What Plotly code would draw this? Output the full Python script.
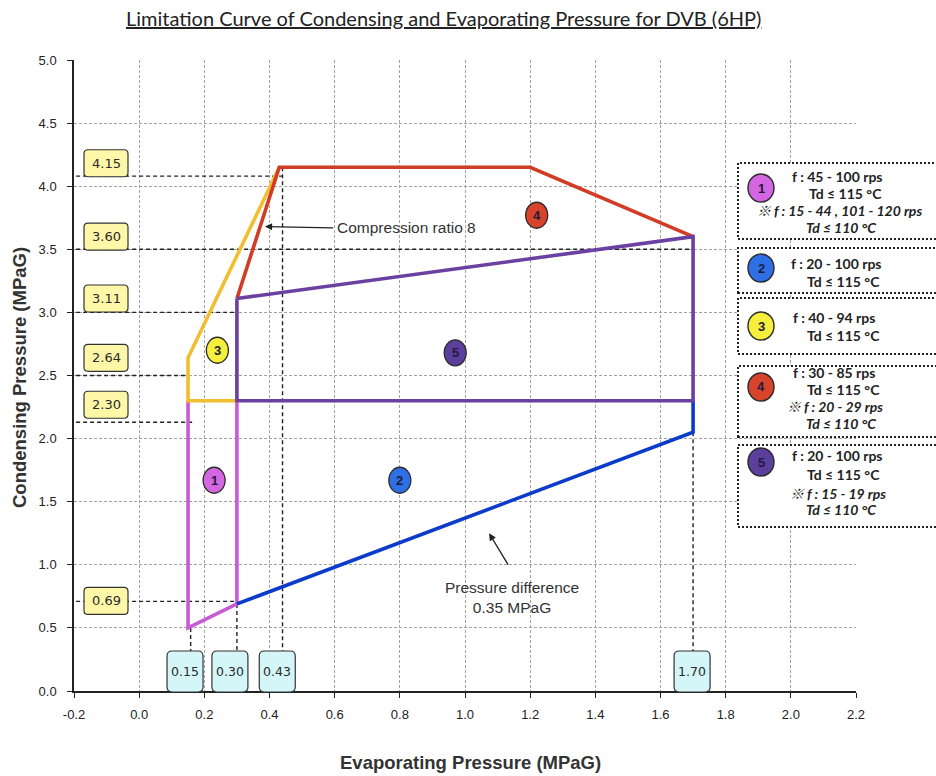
import plotly.graph_objects as go

# ---------------- data ----------------
x_range = [-0.2, 2.2]
y_range = [0.0, 5.0]
x_tick_vals = [-0.2, 0.0, 0.2, 0.4, 0.6, 0.8, 1.0, 1.2, 1.4, 1.6, 1.8, 2.0, 2.2]
x_tick_text = ["-0.2", "0.0", "0.2", "0.4", "0.6", "0.8", "1.0", "1.2", "1.4", "1.6", "1.8", "2.0", "2.2"]
y_tick_vals = [0.0, 0.5, 1.0, 1.5, 2.0, 2.5, 3.0, 3.5, 4.0, 4.5, 5.0]
y_tick_text = ["0.0", "0.5", "1.0", "1.5", "2.0", "2.5", "3.0", "3.5", "4.0", "4.5", "5.0"]

pink_x = [0.15, 0.15, 0.30, 0.30]
pink_y = [2.30, 0.50, 0.69, 2.30]
blue_x = [0.30, 1.70, 1.70]
blue_y = [0.69, 2.05, 2.30]
yellow_x = [0.30, 0.15, 0.15, 0.43]
yellow_y = [2.30, 2.30, 2.64, 4.15]
red_x = [0.30, 0.43, 1.20, 1.70]
red_y = [3.11, 4.15, 4.15, 3.60]
purple_x = [0.30, 1.70, 1.70, 0.30, 0.30]
purple_y = [3.11, 3.60, 2.30, 2.30, 3.11]

badge_num = ["1", "2", "3", "4", "5"]
badge_x = [0.23, 0.80, 0.24, 1.22, 0.97]
badge_y = [1.67, 1.67, 2.70, 3.77, 2.68]

y_labels = ["4.15", "3.60", "3.11", "2.64", "2.30", "0.69"]
y_label_vals = [4.15, 3.60, 3.11, 2.64, 2.30, 0.69]
x_labels = ["0.15", "0.30", "0.43", "1.70"]
x_label_vals = [0.15, 0.30, 0.43, 1.70]

guide_h_y = [4.08, 3.50, 3.00, 2.50, 2.13, 0.71]
guide_h_xend = [0.44, 1.70, 0.30, 0.15, 0.17, 0.30]
guide_v_x = [0.158, 0.30, 0.44, 1.70]
guide_v_ytop = [0.50, 0.69, 4.15, 2.05]

legend_lines = [
    ["f : 45 - 100 rps", "Td ≤ 115 °C", "<i>※ f : 15 - 44 , 101 - 120 rps</i>", "<i>Td ≤ 110 °C</i>"],
    ["f : 20 - 100 rps", "Td ≤ 115 °C"],
    ["f : 40 - 94 rps", "Td ≤ 115 °C"],
    ["f : 30 - 85 rps", "Td ≤ 115 °C", "<i>※ f : 20 - 29 rps</i>", "<i>Td ≤ 110 °C</i>"],
    ["f : 20 - 100 rps", "Td ≤ 115 °C", "<i>※ f : 15 - 19 rps</i>", "<i>Td ≤ 110 °C</i>"],
]

title_text = "Limitation Curve of Condensing and Evaporating Pressure for DVB (6HP)"
x_title = "Evaporating Pressure (MPaG)"
y_title = "Condensing Pressure (MPaG)"

# ---------------- style ----------------
W, H = 936, 776
ML, MR, MT, MB = 74, 80, 60, 85
PW, PH = W - ML - MR, H - MT - MB


def xp(px):
    return (px - ML) / PW


def yp(py):
    return (H - MB - py) / PH


line_colors = {"pink": "#C85AD6", "blue": "#0B3BCB", "yellow": "#F0BE2E",
               "red": "#D23C26", "purple": "#6A40A0"}
badge_colors = ["#D466E2", "#2F6FE6", "#F6F03C", "#D7432B", "#5C3E9C"]


def rounded(w, h, r, dx=0, dy=0):
    x0, x1 = -w / 2 + dx, w / 2 + dx
    y0, y1 = -h / 2 + dy, h / 2 + dy
    return (f"M{x0+r},{y0} L{x1-r},{y0} Q{x1},{y0} {x1},{y0+r} "
            f"L{x1},{y1-r} Q{x1},{y1} {x1-r},{y1} L{x0+r},{y1} "
            f"Q{x0},{y1} {x0},{y1-r} L{x0},{y0+r} Q{x0},{y0} {x0+r},{y0} Z")


def ann(**kw):
    d = dict(showarrow=False, xanchor="center", yanchor="middle")
    d.update(kw)
    return d


fig = go.Figure()

guide_style = dict(color="#222222", width=1.4, dash="4px,3px")
for gy, gx in zip(guide_h_y, guide_h_xend):
    fig.add_trace(go.Scatter(x=[x_range[0] - 0.015, gx], y=[gy, gy], mode="lines",
                             line=guide_style, hoverinfo="skip", cliponaxis=False))
for gx, gy in zip(guide_v_x, guide_v_ytop):
    fig.add_trace(go.Scatter(x=[gx, gx], y=[gy, y_range[0] - 0.05], mode="lines",
                             line=guide_style, hoverinfo="skip", cliponaxis=False))

for xs, ys, c in [(pink_x, pink_y, "pink"), (blue_x, blue_y, "blue"),
                  (yellow_x, yellow_y, "yellow"), (red_x, red_y, "red"),
                  (purple_x, purple_y, "purple")]:
    fig.add_trace(go.Scatter(x=xs, y=ys, mode="lines",
                             line=dict(color=line_colors[c], width=3.6),
                             hoverinfo="skip"))

shapes = []
annotations = []

# region badges in the plot
for n, bx, by, col in zip(badge_num, badge_x, badge_y, badge_colors):
    shapes.append(dict(type="circle", xref="x", yref="y", xsizemode="pixel", ysizemode="pixel",
                       xanchor=bx, yanchor=by, x0=-11, x1=11, y0=-13, y1=13,
                       fillcolor=col, line=dict(color="#2a2a2a", width=1.3), layer="above"))
    annotations.append(ann(x=bx, y=by, xref="x", yref="y", text=f"<b>{n}</b>",
                           font=dict(family="Liberation Sans, Arial", size=13, color="#1c1c3a")))

# left value boxes
y_shift = [4, 0, 0, 0, -4, 3]
for lab, v, s in zip(y_labels, y_label_vals, y_shift):
    shapes.append(dict(type="path", xref="paper", yref="y", xsizemode="pixel", ysizemode="pixel",
                       xanchor=xp(106), yanchor=v, path=rounded(44, 27, 4, 0, s),
                       fillcolor="#FFF7A8", line=dict(color="#333333", width=1.2), layer="above"))
    annotations.append(ann(x=xp(106), y=v, xref="paper", yref="y", yshift=s, text=lab,
                           font=dict(family="DejaVu Sans", size=13, color="#2a2a2a")))

# bottom value boxes
x_shift = [-3, -7, -2, -1]
for lab, v, s in zip(x_labels, x_label_vals, x_shift):
    shapes.append(dict(type="path", xref="x", yref="paper", xsizemode="pixel", ysizemode="pixel",
                       xanchor=v, yanchor=yp(671.5), path=rounded(36, 41, 5, s, 0),
                       fillcolor="#D5F6F8", line=dict(color="#333333", width=1.2), layer="above"))
    annotations.append(ann(x=v, y=yp(671.5), xref="x", yref="paper", xshift=s, text=lab,
                           font=dict(family="DejaVu Sans", size=12.5, color="#2a2a2a")))

# legend boxes on the right
box_top = [163, 248, 298, 366, 445]
box_bot = [239, 293, 354, 437, 527]
circ_y = [188, 268, 326, 387, 462]
line_y = [[177, 194, 211, 227], [263, 281], [317, 335], [372, 389, 406, 423], [456, 474, 493, 510]]
line_x = [[837, 845, 839, 841], [836, 843], [834, 843], [834, 843, 835, 841], [837, 843, 838, 841]]
for i in range(5):
    shapes.append(dict(type="rect", xref="paper", yref="paper",
                       x0=xp(738), x1=xp(950), y0=yp(box_bot[i]), y1=yp(box_top[i]),
                       fillcolor="white", line=dict(color="#222222", width=2, dash="2px,2px"),
                       layer="above"))
    shapes.append(dict(type="circle", xref="paper", yref="paper", xsizemode="pixel",
                       ysizemode="pixel", xanchor=xp(761), yanchor=yp(circ_y[i]),
                       x0=-13, x1=13, y0=-14, y1=14, fillcolor=badge_colors[i],
                       line=dict(color="#2a2a2a", width=1.4), layer="above"))
    annotations.append(ann(x=xp(761), y=yp(circ_y[i]), xref="paper", yref="paper",
                           text=f"<b>{badge_num[i]}</b>",
                           font=dict(family="Liberation Sans, Arial", size=13, color="#1c1c3a")))
    for t, lx, ly in zip(legend_lines[i], line_x[i], line_y[i]):
        annotations.append(ann(x=xp(lx), y=yp(ly), xref="paper", yref="paper",
                               text=f"<b>{t}</b>",
                               font=dict(family="Lato, Noto Sans CJK JP", size=14, color="#222222")))

# arrows and notes
annotations.append(dict(x=0.386, y=3.68, ax=0.60, ay=3.67, xref="x", yref="y", axref="x", ayref="y",
                        text="", showarrow=True, arrowhead=2, arrowsize=1.1, arrowwidth=1.3,
                        arrowcolor="#222222"))
annotations.append(ann(x=0.60, y=3.67, xref="x", yref="y", text="Compression ratio 8",
                       xanchor="left",
                       font=dict(family="Liberation Sans, Arial", size=15.5, color="#333333")))
annotations.append(dict(x=1.074, y=1.25, ax=1.135, ay=0.99, xref="x", yref="y", axref="x", ayref="y",
                        text="", showarrow=True, arrowhead=2, arrowsize=1.1, arrowwidth=1.3,
                        arrowcolor="#222222"))
annotations.append(ann(x=1.144, y=0.74, xref="x", yref="y",
                       text="Pressure difference<br>0.35 MPaG",
                       font=dict(family="Liberation Sans, Arial", size=15.5, color="#333333")))

# titles
annotations.append(ann(x=xp(443), y=yp(18), xref="paper", yref="paper",
                       text=f"<u>{title_text}</u>",
                       font=dict(family="Lato", size=20, color="#222222")))
annotations.append(ann(x=xp(470), y=yp(762), xref="paper", yref="paper",
                       text=f"<b>{x_title}</b>",
                       font=dict(family="Liberation Sans, Arial", size=18.5, color="#333333")))
annotations.append(ann(x=xp(19), y=yp(378), xref="paper", yref="paper", textangle=-90,
                       text=f"<b>{y_title}</b>",
                       font=dict(family="Liberation Sans, Arial", size=18.5, color="#333333")))

axis_common = dict(showline=True, linecolor="#222222", linewidth=1.5, ticks="outside",
                   ticklen=5, tickcolor="#222222", showgrid=True, gridcolor="#a3a3a3",
                   gridwidth=1, griddash="3px,2px", zeroline=False,
                   tickfont=dict(family="Liberation Sans, Arial", size=13, color="#222222"),
                   mirror=False)

fig.update_layout(
    width=W, height=H, margin=dict(l=ML, r=MR, t=MT, b=MB),
    paper_bgcolor="white", plot_bgcolor="white", showlegend=False,
    xaxis=dict(range=x_range, tickmode="array", tickvals=x_tick_vals, ticktext=x_tick_text,
               ticklabelstandoff=6, **axis_common),
    yaxis=dict(range=y_range, tickmode="array", tickvals=y_tick_vals, ticktext=y_tick_text,
               ticklabelstandoff=8, **axis_common),
    shapes=shapes, annotations=annotations,
)

fig.write_html("out.html", config={"displayModeBar": False},
               post_script="document.body.style.margin='0';document.body.style.overflow='hidden';")
